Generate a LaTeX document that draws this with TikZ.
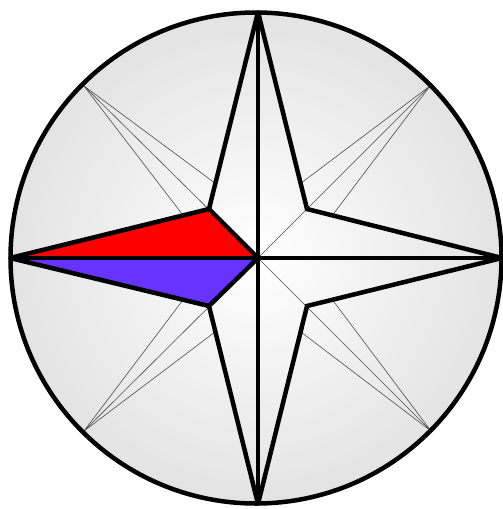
\documentclass[tikz,border=0pt]{standalone}
\usetikzlibrary{calc}
\definecolor{cred}{RGB}{255,0,0}
\definecolor{cblue}{RGB}{102,51,255}
\tikzset{
  thick edge/.style={line width=4.5pt, line join=miter, black},
  thin ray/.style={line width=0.6pt, black!70},
}
\begin{document}
\begin{tikzpicture}[x=1pt,y=-1pt]
\useasboundingbox (0,0) rectangle (503,509);
% key points
\coordinate (O) at (256,258);
\coordinate (C) at (258,258);
\coordinate (N) at (258,12);
\coordinate (S) at (258,504);
\coordinate (W) at (10,258);
\coordinate (E) at (502,258);
\coordinate (VNW) at (209,209);
\coordinate (VNE) at (307,209);
\coordinate (VSW) at (209,306);
\coordinate (VSE) at (307,306);
\coordinate (PNW) at (84,86);
\coordinate (PNE) at (430,86);
\coordinate (PSW) at (84,431);
\coordinate (PSE) at (431,431);
% background disc
\shade[inner color=white, outer color=gray!22] (O) circle (245.5);
% thin rays
\foreach \p/\v/\a/\b in {PNW/VNW/N/W, PNE/VNE/N/E, PSW/VSW/S/W, PSE/VSE/S/E}{
  \draw[thin ray] (\p) -- (C);
  \draw[thin ray] (\p) -- ($(\v)!0.13!(\a)$);
  \draw[thin ray] (\p) -- ($(\v)!0.13!(\b)$);
}
% coloured halves of west point
\fill[cred] (W) -- (VNW) -- (C) -- cycle;
\fill[cblue] (W) -- (VSW) -- (C) -- cycle;
% star outline, clipped to the rim
\begin{scope}
\clip (O) circle (247.5);
\draw[thick edge] (N) -- (VNE) -- (E) -- (VSE) -- (S) -- (VSW) -- (W) -- (VNW) -- cycle;
\draw[thick edge] (N) -- (S);
\draw[thick edge] (W) -- (E);
\draw[thick edge] (VNW) -- (C) -- (VSW);
\end{scope}
% rim
\draw[line width=4.5pt] (O) circle (245.5);
\end{tikzpicture}
\end{document}
